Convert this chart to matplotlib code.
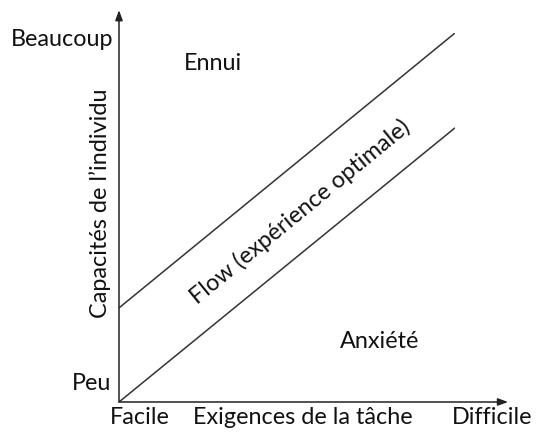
import matplotlib
matplotlib.use("Agg")
import matplotlib.pyplot as plt

plt.rcParams['font.family'] = ['Lato', 'DejaVu Sans']

# Data (arbitrary units: task demands vs individual skills)
demand = [0, 10]
upper_boundary = [2.55, 10.0]   # boundary between Flow and Ennui
lower_boundary = [0.0, 7.43]    # boundary between Flow and Anxiété

W, H = 542, 432
fig = plt.figure(figsize=(W / 100, H / 100), dpi=100)

# axes placed so that origin is at pixel (119, 402), (10,10) at pixel (455, 33)
x0, y0, x1, y1 = 119, 402, 455, 33
ax = fig.add_axes([x0 / W, (H - y0) / H, (x1 - x0) / W, (y0 - y1) / H])
ax.set_xlim(0, 10)
ax.set_ylim(0, 10)
ax.axis('off')

ax.plot(demand, upper_boundary, color='#333333', lw=1.1, solid_capstyle='butt')
ax.plot(demand, lower_boundary, color='#333333', lw=1.1, solid_capstyle='butt')

# axes arrows
ax.annotate('', xy=(0, 10.62), xytext=(0, 0), annotation_clip=False,
            arrowprops=dict(arrowstyle='-|>,head_length=0.6,head_width=0.22',
                            color='#222222', lw=1.1, shrinkA=0, shrinkB=0))
ax.annotate('', xy=(11.58, 0), xytext=(0, 0), annotation_clip=False,
            arrowprops=dict(arrowstyle='-|>,head_length=0.6,head_width=0.22',
                            color='#222222', lw=1.1, shrinkA=0, shrinkB=0))

# text helper in pixel coordinates (top-left origin)
def ptext(x, y, s, **kw):
    fig.text(x / W, 1 - y / H, s, color='#111111', **kw)

fs = 16.8
ptext(62, 40, 'Beaucoup', fontsize=fs, ha='center', va='center')
ptext(92, 383, 'Peu', fontsize=fs, ha='center', va='center')
ptext(140, 418, 'Facile', fontsize=fs, ha='center', va='center')
ptext(303, 418, 'Exigences de la tâche', fontsize=fs, ha='center', va='center')
ptext(492, 418, 'Difficile', fontsize=fs, ha='center', va='center')
ptext(213, 63, 'Ennui', fontsize=fs, ha='center', va='center')
ptext(380, 342, 'Anxiété', fontsize=fs, ha='center', va='center')
ptext(100, 203, 'Capacités de l\u2019individu', fontsize=fs, ha='center', va='center',
      rotation=90)
ptext(300, 212, 'Flow (expérience optimale)', fontsize=fs, ha='center', va='center',
      rotation=39.3, rotation_mode='anchor')

fig.savefig('out.png', dpi=100, facecolor='white')
